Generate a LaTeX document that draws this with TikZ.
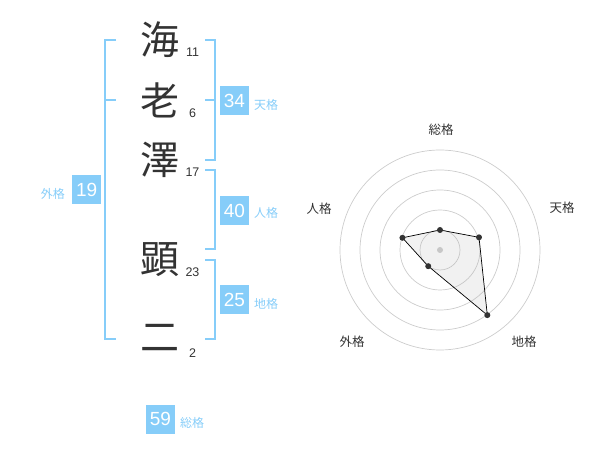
\documentclass[tikz,border=0pt]{standalone}
\usepackage{fontspec}
\setmainfont{Liberation Sans}
\newfontfamily\cjk{Noto Sans CJK JP}
\definecolor{kblue}{HTML}{86CDF9}
\definecolor{ktext}{HTML}{333333}
\definecolor{kgrid}{HTML}{CCCCCC}
\begin{document}
\begin{tikzpicture}[x=1pt,y=-1pt,
  bigch/.style={font=\cjk\fontsize{39}{39}\selectfont,text=ktext,inner sep=0pt},
  strokes/.style={font=\fontsize{12.5}{12.5}\selectfont,text=ktext,inner sep=0pt},
  valbox/.style={fill=kblue,text=white,minimum width=29pt,minimum height=29pt,inner sep=0pt,font=\fontsize{19}{19}\selectfont},
  kaku/.style={font=\cjk\fontsize{12}{12}\selectfont,text=kblue,inner sep=0pt},
  brk/.style={draw=kblue,line width=2pt},
  axlab/.style={font=\cjk\fontsize{12.5}{12.5}\selectfont,text=ktext,inner sep=0pt},
  ring/.style={draw=kgrid,line width=0.7pt},
  dot/.style={circle,fill=ktext,inner sep=0pt,minimum size=6pt}]
\useasboundingbox (0,0) rectangle (600,470);
% characters
\node[bigch] (c1) at (160,40) {海};
\node[bigch] (c2) at (160,100) {老};
\node[bigch] (c3) at (160,160) {澤};
\node[bigch] (c4) at (160,260) {顕};
\node[bigch] (c5) at (160,338) {二};
\node[strokes] (n1) at (192.5,52.5) {11};
\node[strokes] (n2) at (192.5,113) {6};
\node[strokes] (n3) at (192.5,172.5) {17};
\node[strokes] (n4) at (192.5,272.5) {23};
\node[strokes] (n5) at (192.5,353) {2};
% brackets
\draw[brk] (116,40) -- (105,40) -- (105,339) -- (116,339);
\draw[brk] (105,100) -- (116,100);
\draw[brk] (205,40) -- (215,40) -- (215,160) -- (205,160);
\draw[brk] (205,100) -- (215,100);
\draw[brk] (205,170) -- (215,170) -- (215,249) -- (205,249);
\draw[brk] (205,260) -- (215,260) -- (215,339) -- (205,339);
% value boxes
\node[valbox] (ten) at (234.5,100.5) {34};
\node[kaku] (tenl) at (266,105) {天格};
\node[valbox] (jin) at (234.5,210.5) {40};
\node[kaku] (jinl) at (266,213) {人格};
\node[valbox] (chi) at (234.5,300) {25};
\node[kaku] (chil) at (266,304) {地格};
\node[valbox] (gai) at (86.7,190) {19};
\node[kaku] (gail) at (52.8,194) {外格};
\node[valbox] (sou) at (160.5,419) {59};
\node[kaku] (soul) at (192,422.5) {総格};
% radar chart
\begin{scope}[shift={(440,250)},yscale=-1]
  \foreach \r in {20,40,60,80,100} \draw[ring] (0,0) circle (\r);
  \fill[kgrid] (0,0) circle (3);
  \coordinate (pS) at (90:20);
  \coordinate (pT) at (18:41);
  \coordinate (pC) at (-54:80.5);
  \coordinate (pG) at (-126:20);
  \coordinate (pJ) at (162:39.5);
  \filldraw[fill=black!30,fill opacity=0.18,draw=black,line width=0.7pt]
    (pS) -- (pT) -- (pC) -- (pG) -- (pJ) -- cycle;
  \foreach \p in {pS,pT,pC,pG,pJ} \node[dot] at (\p) {};
\end{scope}
\node[axlab] (aS) at (441,130) {総格};
\node[axlab] (aT) at (562,208) {天格};
\node[axlab] (aJ) at (319,209) {人格};
\node[axlab] (aG) at (352,342) {外格};
\node[axlab] (aC) at (524,342) {地格};
\end{tikzpicture}
\end{document}
